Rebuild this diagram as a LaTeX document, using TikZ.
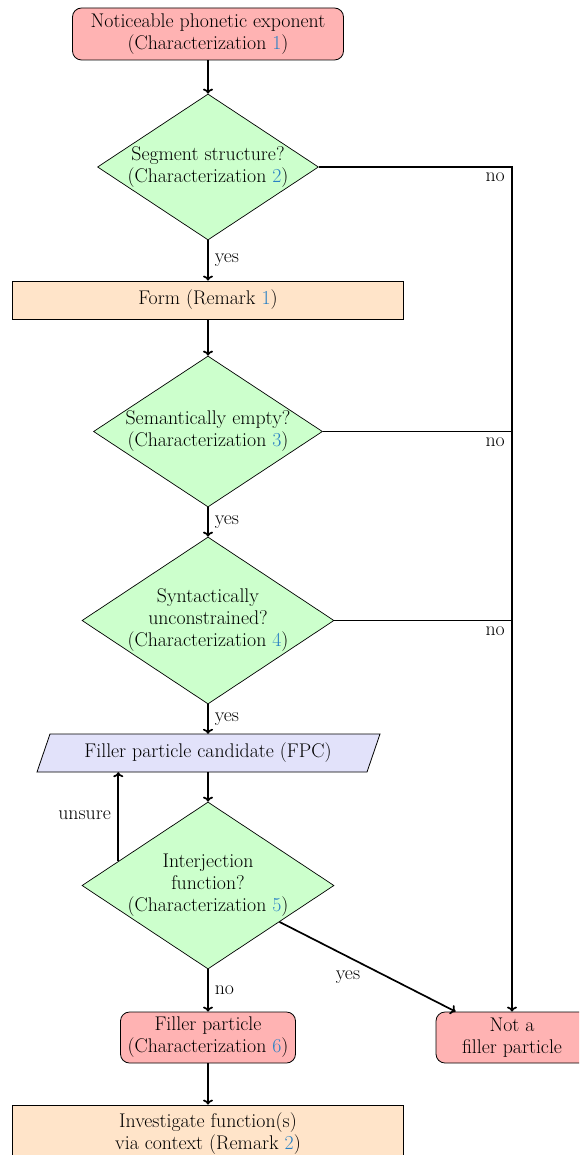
\documentclass[tikz,border=0pt]{standalone}
\usetikzlibrary{shapes.geometric,calc,arrows.meta}
\definecolor{termfill}{RGB}{255,179,179}
\definecolor{decfill}{RGB}{204,255,204}
\definecolor{procfill}{RGB}{255,228,201}
\definecolor{iofill}{RGB}{226,226,250}
\definecolor{linkblue}{RGB}{40,128,196}
\newcommand{\rf}[1]{\textcolor{linkblue}{#1}}
\begin{document}
\begin{tikzpicture}[x=1pt,y=-1pt,
  font=\fontsize{19.8}{22}\selectfont,
  term/.style={rectangle, rounded corners=9pt, draw, line width=0.8pt, fill=termfill, align=center, inner sep=0pt},
  dec/.style={diamond, draw, line width=0.7pt, fill=decfill, inner sep=0pt},
  dectext/.style={align=center, inner sep=0pt},
  proc/.style={rectangle, draw, line width=0.8pt, fill=procfill, align=center, inner sep=0pt},
  iobox/.style={rectangle, inner sep=0pt, align=center},
  conn/.style={line width=1.7pt, -{To[length=5pt,width=10pt]}},
  plainline/.style={line width=1.7pt},
  lbl/.style={inner sep=1pt},
  rlbl/.style={inner sep=1pt, anchor=west, xshift=5pt}]
\useasboundingbox (0,0) rectangle (579,1155);
\clip (0,0) rectangle (579,1155);

\node[term, minimum width=271pt, minimum height=52pt] (start) at (208,34) {Noticeable phonetic exponent\\(Characterization \rf{1})};

\node[dec, minimum width=221pt, minimum height=146pt] (d1) at (208,167) {};
\node[dectext] (d1t) at (d1.center) {Segment structure?\\(Characterization \rf{2})};

\node[proc, minimum width=391pt, minimum height=38pt] (form) at (208,300) {Form (Remark \rf{1})};

\node[dec, minimum width=229pt, minimum height=151pt] (d2) at (208,431.5) {};
\node[dectext] (d2t) at (d2.center) {Semantically empty?\\(Characterization \rf{3})};

\node[dec, minimum width=252pt, minimum height=167pt] (d3) at (208,620.5) {};
\node[dectext] (d3t) at (d3.center) {Syntactically\\unconstrained?\\(Characterization \rf{4})};

\filldraw[fill=iofill, line width=0.8pt] (37,772) -- (50,734) -- (380,734) -- (367,772) -- cycle;
\node[iobox, minimum width=330pt, minimum height=38pt] (fpc) at (208,753) {Filler particle candidate (FPC)};

\node[dec, minimum width=252pt, minimum height=167pt] (d4) at (208,885.5) {};
\node[dectext] (d4t) at (d4.center) {Interjection\\function?\\(Characterization \rf{5})};

\node[term, minimum width=175pt, minimum height=51pt] (fp) at (208,1037.5) {Filler particle\\(Characterization \rf{6})};
\node[term, minimum width=152pt, minimum height=51pt] (nf) at (512,1037.5) {Not a\\filler particle};
\node[proc, minimum width=391pt, minimum height=58pt] (inv) at (208,1134) {Investigate function(s)\\via context (Remark \rf{2})};

\draw[conn] (start) -- (d1);
\draw[conn] (d1) -- node[rlbl] {yes} (form);
\draw[conn] (form) -- (d2);
\draw[conn] (d2) -- node[rlbl] {yes} (d3);
\draw[conn] (d3) -- node[rlbl] {yes} (fpc);
\draw[conn] (fpc) -- (d4);
\draw[conn] (d4) -- node[rlbl] {no} (fp);
\draw[conn] (fp) -- (inv);

\draw[conn] (d1.east) -| (nf.north);
\draw[plainline] (d2.east) -- (d2.east -| nf.north);
\draw[plainline] (d3.east) -- (d3.east -| nf.north);
\node[lbl, anchor=north east] (no1) at ($(d1.east -| nf.north)+(-6,5)$) {no};
\node[lbl, anchor=north east] (no2) at ($(d2.east -| nf.north)+(-6,5)$) {no};
\node[lbl, anchor=north east] (no3) at ($(d3.east -| nf.north)+(-6,5)$) {no};

\coordinate (us) at ($(d4.west)!0.29!(d4.north)$);
\draw[conn] (us) -- (us |- fpc.south);
\node[lbl, anchor=east] (unsure) at (112,815) {unsure};

\draw[conn] (d4) -- ([xshift=20pt]nf.north west);
\node[lbl] (yes4) at (348,977) {yes};
\end{tikzpicture}
\end{document}
